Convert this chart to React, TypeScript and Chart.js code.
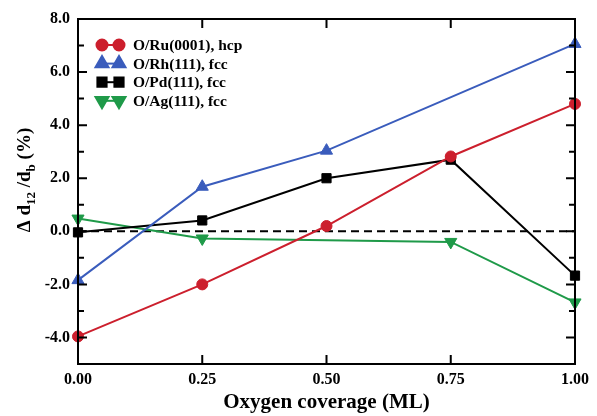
import React, { useEffect, useRef } from 'react';
import { Chart, registerables } from 'chart.js';
import { drawPoint } from 'chart.js/helpers';

Chart.register(...registerables);

const FONT = "'Liberation Serif', 'Times New Roman', Times, serif";

// ---- data ----
const ruCoverage = [0, 0.25, 0.5, 0.75, 1.0];
const ruValues = [-3.96, -2.0, 0.2, 2.82, 4.8];
const rhCoverage = [0, 0.25, 0.5, 1.0];
const rhValues = [-1.84, 1.68, 3.04, 7.06];
const pdCoverage = [0, 0.25, 0.5, 0.75, 1.0];
const pdValues = [-0.04, 0.41, 2.0, 2.7, -1.67];
const agCoverage = [0, 0.25, 0.75, 1.0];
const agValues = [0.48, -0.27, -0.4, -2.68];
const seriesLabels = ['O/Ru(0001), hcp', 'O/Rh(111), fcc', 'O/Pd(111), fcc', 'O/Ag(111), fcc'];
const referenceX = [0, 1];
const referenceY = [0, 0];
const xTickValues = [0, 0.25, 0.5, 0.75, 1.0];
const xInnerTicks = [0.25, 0.5, 0.75];
const yTickValues = [-4, -2, 0, 2, 4, 6, 8];
const yMinorTicks = [-4, -3, -2, -1, 0, 1, 2, 3, 4, 5, 6, 7];
const xTitle = 'Oxygen coverage (ML)';

const pts = (xs: number[], ys: number[]) => xs.map((x, i) => ({ x, y: ys[i] }));

const overlayPlugin = {
  id: 'overlay',
  afterDraw(chart: any) {
    const { ctx, chartArea, scales } = chart;
    const { left, right, top, bottom } = chartArea;
    ctx.save();
    // frame
    ctx.strokeStyle = '#000';
    ctx.lineWidth = 2;
    ctx.strokeRect(left, top, right - left, bottom - top);
    // inward ticks
    ctx.beginPath();
    yMinorTicks.forEach((v) => {
      const y = scales.y.getPixelForValue(v);
      const len = v % 2 === 0 ? 9 : 6;
      ctx.moveTo(left, y);
      ctx.lineTo(left + len, y);
      ctx.moveTo(right, y);
      ctx.lineTo(right - len, y);
    });
    xInnerTicks.forEach((v) => {
      const x = scales.x.getPixelForValue(v);
      ctx.moveTo(x, bottom);
      ctx.lineTo(x, bottom - 9);
      ctx.moveTo(x, top);
      ctx.lineTo(x, top + 9);
    });
    ctx.stroke();

    // legend
    const lx = left + 24;
    const ly = top + 26;
    chart.data.datasets.forEach((ds: any, i: number) => {
      if (!ds.label) return;
      const y = ly + i * 18.6;
      ctx.strokeStyle = ds.borderColor;
      ctx.lineWidth = 2;
      ctx.setLineDash([]);
      ctx.beginPath();
      ctx.moveTo(lx, y);
      ctx.lineTo(lx + 17, y);
      ctx.stroke();
      ctx.fillStyle = ds.pointBackgroundColor;
      ctx.strokeStyle = ds.pointBorderColor;
      const opts = { pointStyle: ds.pointStyle, radius: ds.legendRadius, rotation: ds.pointRotation || 0, borderWidth: 1 };
      drawPoint(ctx, opts, lx, y);
      drawPoint(ctx, opts, lx + 17, y);
      ctx.fillStyle = '#000';
      ctx.font = `bold 15.5px ${FONT}`;
      ctx.textAlign = 'left';
      ctx.textBaseline = 'middle';
      ctx.fillText(ds.label, lx + 31, y + 1);
    });

    // x title
    ctx.fillStyle = '#000';
    ctx.font = `bold 21px ${FONT}`;
    ctx.textAlign = 'center';
    ctx.textBaseline = 'middle';
    ctx.fillText(xTitle, (left + right) / 2, 403);

    // y title with subscripts
    const segs = [
      { t: '\u0394 d', sub: false },
      { t: '12', sub: true },
      { t: ' /d', sub: false },
      { t: 'b', sub: true },
      { t: ' (%)', sub: false },
    ];
    const mainFont = `bold 19px ${FONT}`;
    const subFont = `bold 13px ${FONT}`;
    let total = 0;
    segs.forEach((s) => {
      ctx.font = s.sub ? subFont : mainFont;
      total += ctx.measureText(s.t).width;
    });
    ctx.translate(24, 180);
    ctx.rotate(-Math.PI / 2);
    ctx.textAlign = 'left';
    ctx.textBaseline = 'alphabetic';
    let cx = -total / 2;
    segs.forEach((s) => {
      ctx.font = s.sub ? subFont : mainFont;
      ctx.fillText(s.t, cx, s.sub ? 11 : 6);
      cx += ctx.measureText(s.t).width;
    });
    ctx.restore();
  },
};

const RED = '#cc1f2d';
const BLUE = '#3a5cbc';
const BLACK = '#000000';
const GREEN = '#1f9a49';

export default function App() {
  const ref = useRef<HTMLCanvasElement>(null);
  useEffect(() => {
    if (!ref.current) return;
    const mk = (label: string, data: any, color: string, style: string, radius: number, legendRadius: number, rotation = 0) => ({
      label,
      data,
      borderColor: color,
      backgroundColor: color,
      pointBackgroundColor: color,
      pointBorderColor: color,
      borderWidth: 2,
      pointStyle: style,
      pointRadius: radius,
      pointHoverRadius: radius,
      pointRotation: rotation,
      pointBorderWidth: 1,
      legendRadius,
      showLine: true,
      clip: false,
    });
    const chart = new Chart(ref.current, {
      type: 'scatter',
      data: {
        datasets: [
          mk(seriesLabels[0], pts(ruCoverage, ruValues), RED, 'circle', 5.5, 5.5),
          mk(seriesLabels[1], pts(rhCoverage, rhValues), BLUE, 'triangle', 7, 7.5),
          mk(seriesLabels[2], pts(pdCoverage, pdValues), BLACK, 'rect', 6.5, 6.5),
          mk(seriesLabels[3], pts(agCoverage, agValues), GREEN, 'triangle', 7, 7.5, 180),
          {
            label: '',
            data: pts(referenceX, referenceY),
            borderColor: '#000',
            borderWidth: 2,
            borderDash: [8, 5],
            pointRadius: 0,
            showLine: true,
          } as any,
        ],
      },
      options: {
        animation: false,
        responsive: false,
        maintainAspectRatio: false,
        layout: { padding: { top: 19, right: 22, left: 0, bottom: 0 } },
        plugins: { legend: { display: false }, tooltip: { enabled: false } },
        scales: {
          x: {
            type: 'linear',
            min: 0,
            max: 1,
            afterBuildTicks: (s: any) => {
              s.ticks = xTickValues.map((v) => ({ value: v }));
            },
            afterFit: (s: any) => {
              s.height = 52;
            },
            grid: { display: false, drawTicks: false },
            border: { display: false },
            ticks: {
              autoSkip: false,
              maxRotation: 0,
              padding: 6,
              color: '#000',
              font: { family: FONT, size: 16, weight: 'bold' },
              callback: (v: any) => Number(v).toFixed(2),
            },
          },
          y: {
            type: 'linear',
            min: -5,
            max: 8,
            afterBuildTicks: (s: any) => {
              s.ticks = yTickValues.map((v) => ({ value: v }));
            },
            afterFit: (s: any) => {
              s.width = 78;
            },
            grid: { display: false, drawTicks: false },
            border: { display: false },
            ticks: {
              autoSkip: false,
              padding: 8,
              color: '#000',
              font: { family: FONT, size: 16, weight: 'bold' },
              callback: (v: any) => Number(v).toFixed(1),
            },
          },
        },
      },
      plugins: [overlayPlugin],
    } as any);
    return () => chart.destroy();
  }, []);
  return (
    <div style={{ position: 'fixed', left: 0, top: 0, width: 597, height: 416, background: '#fff' }}>
      <canvas ref={ref} width={597} height={416} style={{ width: 597, height: 416 }} />
    </div>
  );
}
